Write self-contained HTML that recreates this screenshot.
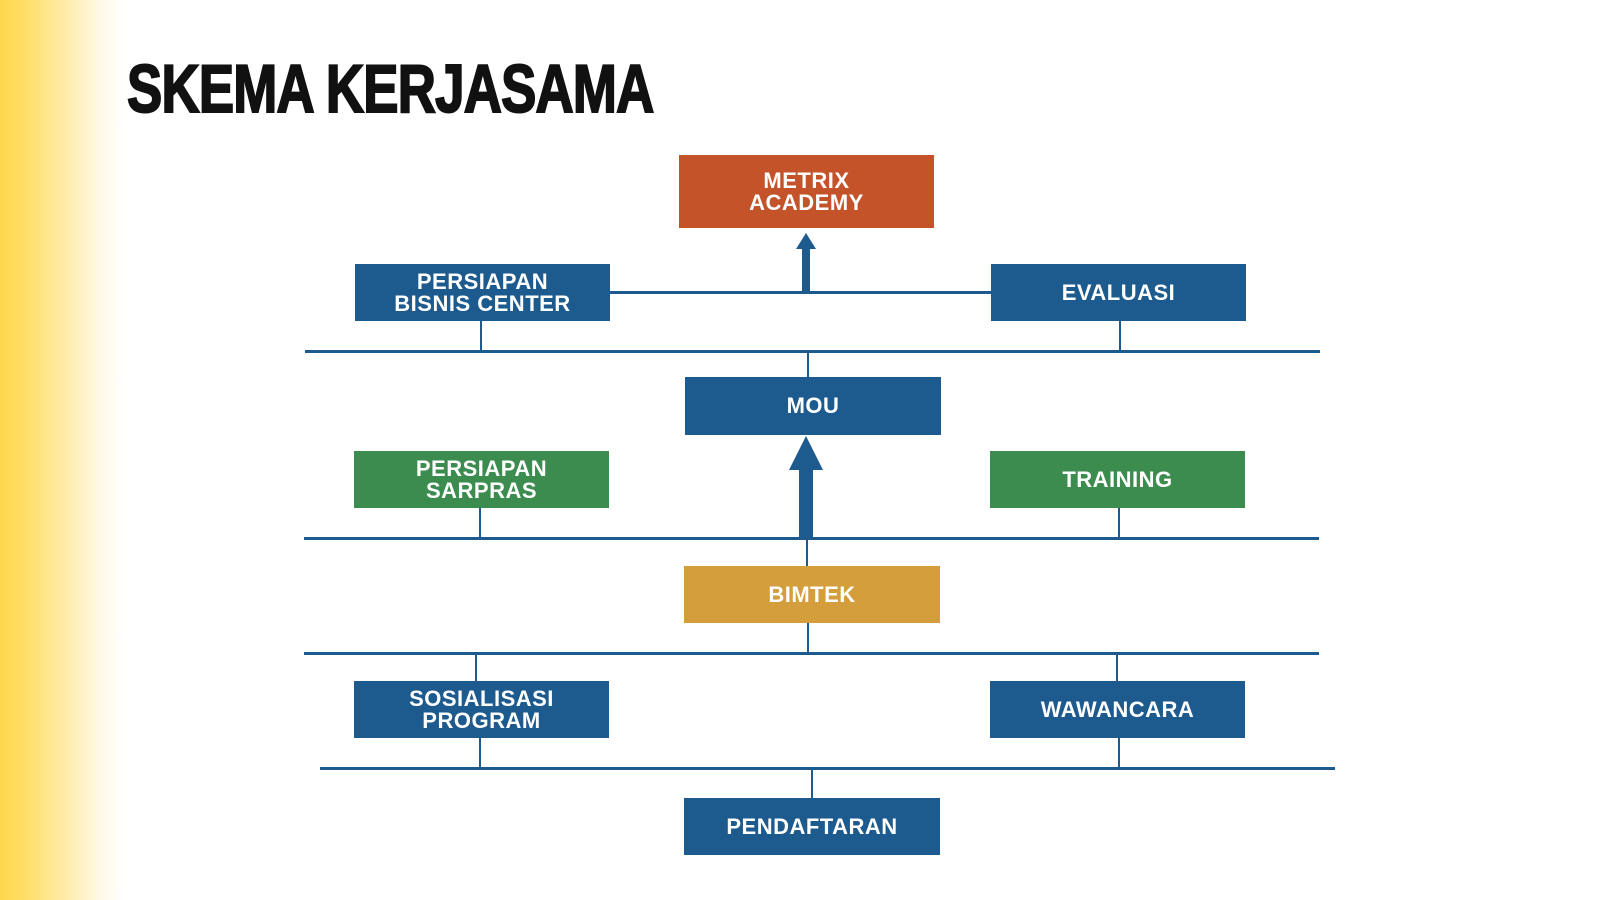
<!DOCTYPE html>
<html><head><meta charset="utf-8"><style>
*{margin:0;padding:0}
body{width:1600px;height:900px;position:relative;background:#fff;overflow:hidden;font-family:"Liberation Sans",sans-serif}
.bg{position:absolute;left:0;top:0;width:125px;height:900px;background:linear-gradient(to right,#ffd84f 0px,#ffdc60 20px,#ffeaa0 60px,#fff8e6 100px,#fff 125px)}
.title{position:absolute;left:127px;top:50px;font-size:68px;font-weight:bold;color:#111;transform:scaleX(0.777);transform-origin:left top;letter-spacing:-1px;white-space:nowrap;-webkit-text-stroke:2px #111}
.b{position:absolute;display:flex;align-items:center;justify-content:center;text-align:center;color:#fff;font-weight:bold;font-size:22px;line-height:22px;letter-spacing:0.5px}
.blue{background:#1d5a8e}.green{background:#3d8c4f}.orange{background:#c4532a}.gold{background:#d39e3b}
.h{position:absolute;height:3px;background:#1d5a8e}
.v{position:absolute;width:2px;background:#1d5a8e}
</style></head><body>
<div class="bg"></div>
<div class="title">SKEMA KERJASAMA</div>

<div class="h" style="left:610px;top:291px;width:381px"></div>
<div class="h" style="left:305px;top:350px;width:1015px"></div>
<div class="h" style="left:304px;top:537px;width:1015px"></div>
<div class="h" style="left:304px;top:652px;width:1015px"></div>
<div class="h" style="left:320px;top:767px;width:1015px"></div>

<div class="v" style="left:480px;top:321px;height:30px"></div>
<div class="v" style="left:1119px;top:321px;height:30px"></div>
<div class="v" style="left:807px;top:351px;height:26px"></div>
<div class="v" style="left:479px;top:508px;height:30px"></div>
<div class="v" style="left:1118px;top:508px;height:30px"></div>
<div class="v" style="left:806px;top:538px;height:28px"></div>
<div class="v" style="left:807px;top:623px;height:30px"></div>
<div class="v" style="left:475px;top:653px;height:28px"></div>
<div class="v" style="left:1116px;top:653px;height:28px"></div>
<div class="v" style="left:479px;top:738px;height:30px"></div>
<div class="v" style="left:1118px;top:738px;height:30px"></div>
<div class="v" style="left:811px;top:768px;height:30px"></div>

<svg style="position:absolute;left:0;top:0" width="1600" height="900">
<polygon points="806,233 796,249 802,249 802,292 810,292 810,249 816,249" fill="#1d5a8e"/>
<polygon points="806,436 789,470 799,470 799,538 813,538 813,470 823,470" fill="#1d5a8e"/>
</svg>

<div class="b orange" style="left:679px;top:155px;width:255px;height:73px">METRIX<br>ACADEMY</div>
<div class="b blue" style="left:355px;top:264px;width:255px;height:57px">PERSIAPAN<br>BISNIS CENTER</div>
<div class="b blue" style="left:991px;top:264px;width:255px;height:57px">EVALUASI</div>
<div class="b blue" style="left:685px;top:377px;width:256px;height:58px">MOU</div>
<div class="b green" style="left:354px;top:451px;width:255px;height:57px">PERSIAPAN<br>SARPRAS</div>
<div class="b green" style="left:990px;top:451px;width:255px;height:57px">TRAINING</div>
<div class="b gold" style="left:684px;top:566px;width:256px;height:57px">BIMTEK</div>
<div class="b blue" style="left:354px;top:681px;width:255px;height:57px">SOSIALISASI<br>PROGRAM</div>
<div class="b blue" style="left:990px;top:681px;width:255px;height:57px">WAWANCARA</div>
<div class="b blue" style="left:684px;top:798px;width:256px;height:57px">PENDAFTARAN</div>
</body></html>
